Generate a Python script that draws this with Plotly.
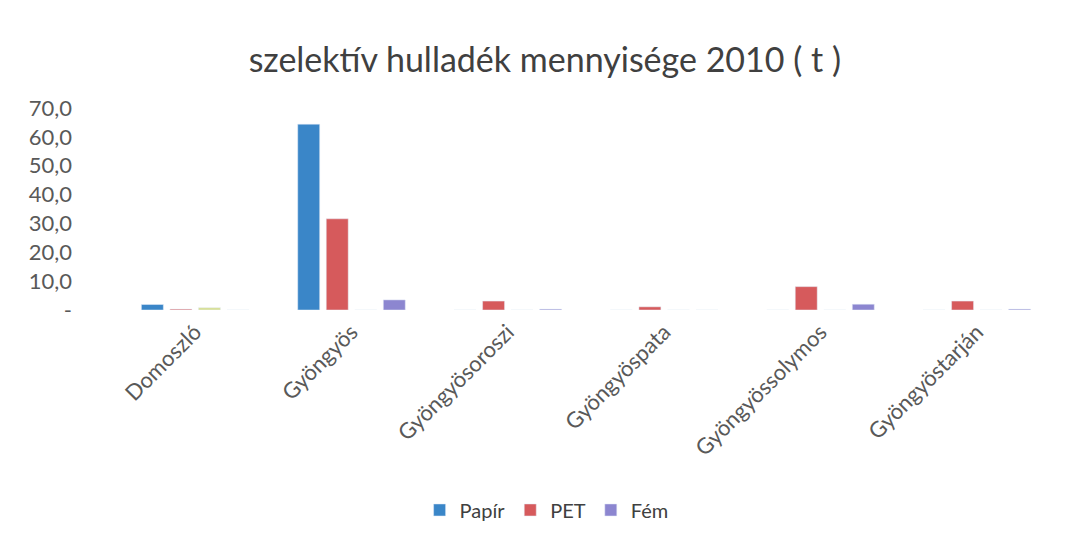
import plotly.graph_objects as go

categories = ["Domoszló", "Gyöngyös", "Gyöngyösoroszi", "Gyöngyöspata", "Gyöngyössolymos", "Gyöngyöstarján"]
papir = [1.9, 64.4, 0, 0, 0, 0]
pet = [0.3, 31.6, 3.1, 1.1, 8.1, 3.1]
hidden = [0.8, 0, 0, 0, 0, 0]
fem = [0, 3.5, 0.3, 0, 2.0, 0.3]
ytick_vals = [0, 10, 20, 30, 40, 50, 60, 70]
ytick_text = ["-", "10,0", "20,0", "30,0", "40,0", "50,0", "60,0", "70,0"]
title_text = "szelektív hulladék mennyisége 2010 ( t )"

font_family = "Lato, 'Open Sans', sans-serif"

fig = go.Figure()
fig.add_trace(go.Bar(name="Papír", x=categories, y=papir, marker_color="#3A86C8"))
fig.add_trace(go.Bar(name="PET", x=categories, y=pet, marker_color="#D65A5C"))
fig.add_trace(go.Bar(name="", x=categories, y=hidden, marker_color="#D8DF92", showlegend=False))
fig.add_trace(go.Bar(name="Fém", x=categories, y=fem, marker_color="#8C86D0"))

fig.update_layout(
    width=1063, height=525,
    paper_bgcolor="white", plot_bgcolor="white",
    barmode="group", bargap=0.27, bargroupgap=0.23,
    margin=dict(l=109, r=16, t=100, b=223, autoexpand=False),
    title=dict(text=title_text, x=0.505, xanchor="center", y=0.901, yanchor="middle",
               font=dict(family=font_family, size=34, color="#404040")),
    font=dict(family=font_family, color="#595959"),
    xaxis=dict(type="category", tickangle=-45, showgrid=False, showline=False,
               zeroline=False, ticks="", ticklabelstandoff=4,
               tickfont=dict(size=22, color="#595959")),
    yaxis=dict(range=[0, 70], tickvals=ytick_vals, ticktext=ytick_text, showgrid=False,
               zeroline=False, showline=False, ticks="", ticklabelstandoff=44,
               tickfont=dict(size=22, color="#595959")),
    legend=dict(orientation="h", x=0.458, xanchor="center", y=-0.99, yanchor="middle",
                font=dict(size=20, color="#404040"), traceorder="normal", itemwidth=30),
    showlegend=True,
)

fig.write_html("out.html")
